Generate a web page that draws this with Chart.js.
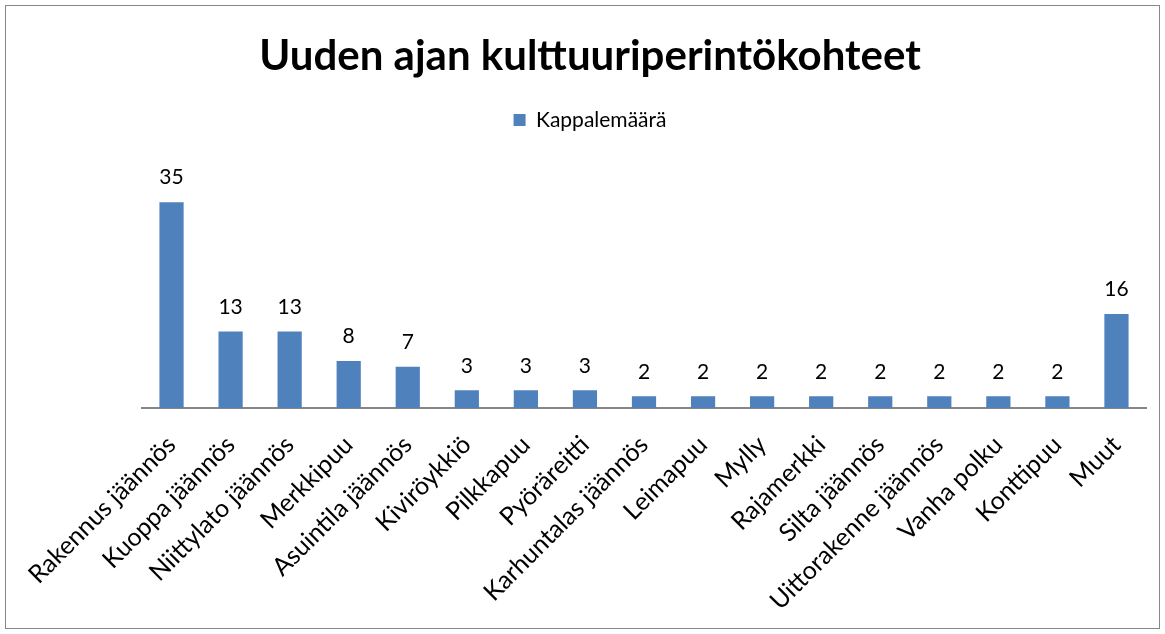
<!DOCTYPE html>
<html>
<head>
<meta charset="utf-8">
<script src="https://cdn.jsdelivr.net/npm/chart.js@4"></script>
<style>
  body { margin: 0; background: #fff; }
  #wrap { position: relative; width: 1165px; height: 634px; }
</style>
</head>
<body>
<div id="wrap"><canvas id="chart" width="1165" height="634"></canvas></div>
<script>
const categories = [
  'Rakennus jäännös', 'Kuoppa jäännös', 'Niittylato jäännös', 'Merkkipuu',
  'Asuintila jäännös', 'Kiviröykkiö', 'Pilkkapuu', 'Pyöräreitti',
  'Karhuntalas jäännös', 'Leimapuu', 'Mylly', 'Rajamerkki', 'Silta jäännös',
  'Uittorakenne jäännös', 'Vanha polku', 'Konttipuu', 'Muut'
]
const counts = [35, 13, 13, 8, 7, 3, 3, 3, 2, 2, 2, 2, 2, 2, 2, 2, 16]
const seriesName = 'Kappalemäärä'
const titleText = 'Uuden ajan kulttuuriperintökohteet'

const fontFamily = 'Lato, "Open Sans", sans-serif'

// thin gray frame round the whole chart, like the office export
const framePlugin = {
  id: 'frame',
  beforeDraw(chart) {
    const c = chart.ctx
    c.save()
    c.fillStyle = '#fff'
    c.fillRect(0, 0, chart.width, chart.height)
    c.strokeStyle = '#878787'
    c.lineWidth = 1
    c.strokeRect(5.5, 5.5, chart.width - 11, chart.height - 11)
    c.restore()
  }
}

// value labels above each bar
const valueLabels = {
  id: 'valueLabels',
  afterDatasetsDraw(chart) {
    const c = chart.ctx
    const meta = chart.getDatasetMeta(0)
    c.save()
    c.font = '21px ' + fontFamily
    c.fillStyle = '#000'
    c.textAlign = 'center'
    c.textBaseline = 'bottom'
    meta.data.forEach((bar, i) => {
      c.fillText(counts[i], bar.x, bar.y - 14)
    })
    c.restore()
  }
}

new Chart(document.getElementById('chart'), {
  type: 'bar',
  data: {
    labels: categories,
    datasets: [{
      label: seriesName,
      data: counts,
      backgroundColor: '#4f81bd',
      borderWidth: 0,
      barPercentage: 0.41,
      categoryPercentage: 1
    }]
  },
  options: {
    responsive: false,
    animation: false,
    layout: {
      padding: { left: 34, right: 19, top: 0, bottom: 0 }
    },
    plugins: {
      title: {
        display: true,
        text: titleText,
        color: '#000',
        font: { family: fontFamily, size: 42, weight: 'bold' },
        padding: { top: 31, bottom: 18 }
      },
      legend: {
        display: true,
        labels: {
          color: '#000',
          boxWidth: 12,
          boxHeight: 12,
          font: { family: fontFamily, size: 21 }
        }
      },
      tooltip: { enabled: false }
    },
    scales: {
      x: {
        grid: { display: false, drawTicks: false },
        border: { display: true, color: '#868686', width: 2 },
        ticks: {
          color: '#000',
          maxRotation: 45,
          minRotation: 45,
          autoSkip: false,
          padding: 22,
          font: { family: fontFamily, size: 25 }
        },
        afterFit(scale) {
          scale.height = 226
        }
      },
      y: {
        display: true,
        min: 0,
        max: 45.5,
        grid: { display: false, drawTicks: false },
        border: { display: false },
        ticks: { display: false },
        afterFit(scale) {
          scale.width = 108
        }
      }
    }
  },
  plugins: [framePlugin, valueLabels]
})
</script>
</body>
</html>
